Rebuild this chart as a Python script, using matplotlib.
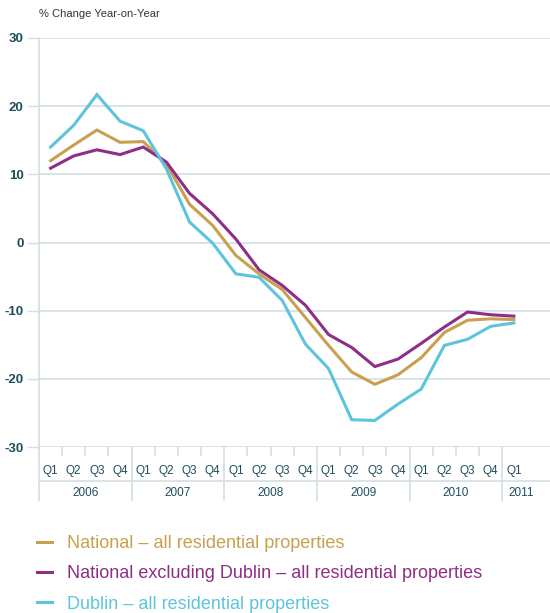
import matplotlib.pyplot as plt
import matplotlib.transforms as mtransforms
from matplotlib.lines import Line2D

years = ['2006', '2007', '2008', '2009', '2010', '2011']
quarters = ['Q1', 'Q2', 'Q3', 'Q4'] * 5 + ['Q1']

national = [12.0, 14.3, 16.5, 14.7, 14.8, 11.5, 5.6, 2.5,
            -1.9, -4.6, -6.9, -11.0, -15.1, -19.0, -20.8, -19.4,
            -16.9, -13.2, -11.4, -11.2, -11.3]
excl_dublin = [10.9, 12.7, 13.6, 12.9, 14.0, 11.8, 7.2, 4.2,
               0.5, -4.0, -6.3, -9.2, -13.5, -15.4, -18.2, -17.1,
               -14.8, -12.4, -10.2, -10.6, -10.8]
dublin = [14.0, 17.2, 21.7, 17.8, 16.4, 10.8, 3.0, -0.1,
          -4.6, -5.1, -8.5, -14.9, -18.5, -26.0, -26.1, -23.7,
          -21.5, -15.1, -14.2, -12.3, -11.8]

labels = ['National \u2013 all residential properties',
          'National excluding Dublin \u2013 all residential properties',
          'Dublin \u2013 all residential properties']
colors = ['#C9A050', '#8E2E86', '#5EC4DC']

grid_c = '#D3DFE2'
text_c = '#1E4D5C'
font = ['Liberation Sans', 'DejaVu Sans']

fig = plt.figure(figsize=(5.5, 6.13), dpi=100)
ax = fig.add_axes([39 / 550, 1 - 447 / 613, 1 - 39 / 550, (447 - 38) / 613])

x = list(range(len(quarters)))
for series, c in zip([national, excl_dublin, dublin], colors):
    ax.plot(x, series, color=c, lw=2.2, solid_joinstyle='miter')

ax.set_xlim(-0.5, 21.56)
ax.set_ylim(-30, 30)
ax.set_yticks([-30, -20, -10, 0, 10, 20, 30])
ax.set_yticklabels(['-30', '-20', '-10', '0', '10', '20', '30'],
                   family=font, fontsize=9.5, fontweight='bold', color=text_c)
ax.tick_params(axis='y', length=9, width=1, color=grid_c, pad=2)
ax.grid(axis='y', color=grid_c, lw=1.2)
ax.set_axisbelow(True)
for s in ['top', 'right', 'bottom']:
    ax.spines[s].set_visible(False)
ax.spines['left'].set_color(grid_c)
ax.spines['left'].set_linewidth(1.2)

# quarter labels on x axis
ax.set_xticks(x)
ax.set_xticklabels(quarters, family=font, fontsize=8.5, color=text_c)
ax.tick_params(axis='x', length=0, pad=13)

trans = mtransforms.blended_transform_factory(ax.transData, ax.transAxes)
px = 1 / 409  # one pixel in axes height units
for b in range(1, len(quarters)):
    if b % 4 == 0:
        ax.plot([b - 0.5, b - 0.5], [0, -53 * px], transform=trans,
                color=grid_c, lw=1.2, clip_on=False)
    else:
        ax.plot([b - 0.5, b - 0.5], [0, -8 * px], transform=trans,
                color=grid_c, lw=1.2, clip_on=False)
ax.plot([-0.5, -0.5], [0, -53 * px], transform=trans, color=grid_c, lw=1.2, clip_on=False)
ax.plot([-0.5, 21.56], [-34 * px, -34 * px], transform=trans,
        color=grid_c, lw=1.2, clip_on=False)

for i, yr in enumerate(years):
    xc = i * 4 + 1.5 if i < 5 else 20.3
    ax.text(xc, -46 * px, yr, transform=trans, ha='center', va='center',
            family=font, fontsize=8.5, color=text_c)

fig.text(39 / 550, 1 - 14 / 613, '% Change Year-on-Year', family=font,
         fontsize=8, color='#333333', va='center', ha='left')

handles = [Line2D([], [], color=c, lw=2.2) for c in colors]
leg = fig.legend(handles, labels, loc='upper left', bbox_to_anchor=(0.068, 1 - 535 / 613),
                 frameon=False, handlelength=0.8, handletextpad=0.85,
                 labelspacing=0.74, borderaxespad=0, borderpad=0,
                 prop={'family': font, 'size': 13})
for t, c in zip(leg.get_texts(), colors):
    t.set_color(c)

fig.savefig('out.png', dpi=100)
